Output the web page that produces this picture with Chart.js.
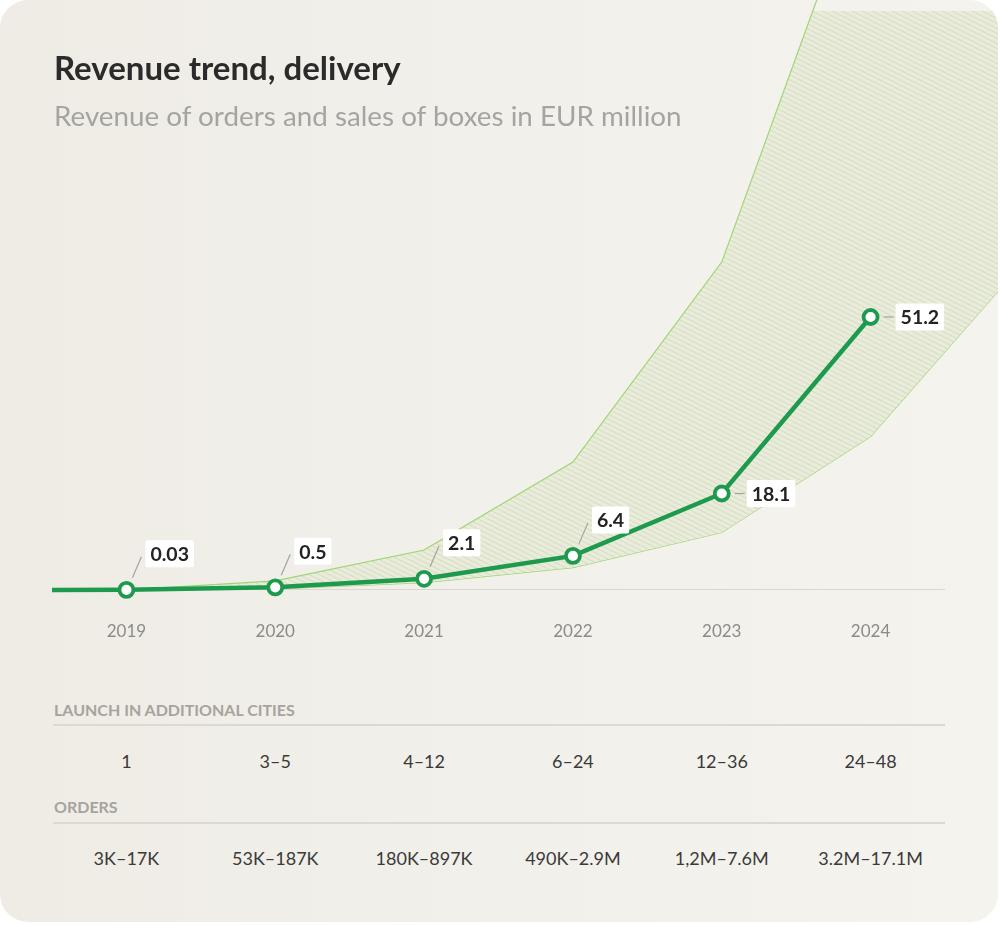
<!DOCTYPE html>
<html>
<head>
<meta charset="utf-8">
<script src="https://cdn.jsdelivr.net/npm/chart.js@4.4.1/dist/chart.umd.min.js"></script>
<style>
  html, body { margin: 0; padding: 0; background: #ffffff; }
  #card {
    position: absolute; left: 0; top: 0; width: 998px; height: 922px;
    border-radius: 28px; overflow: hidden;
    background: linear-gradient(90deg, #efece6 0%, #f2f0ea 50%, #f5f3ee 100%);
    font-family: Lato, "Open Sans", sans-serif;
  }
  #chartWrap { position: absolute; left: 0; top: 0; width: 1040px; height: 660px; }
  #title { position: absolute; left: 54px; top: 47px; font-size: 33px; font-weight: 700; color: #2b2b2b; margin: 0; white-space: nowrap; }
  #subtitle { position: absolute; left: 54px; top: 99px; font-size: 27.8px; font-weight: 400; color: #a5a4a1; margin: 0; white-space: nowrap; }
  .hdr { position: absolute; left: 54px; font-size: 16px; font-weight: 700; color: #a7a39d; white-space: nowrap; }
  .rule { position: absolute; left: 53px; width: 892px; height: 2px; background: #dcd9d3; }
  .cell { position: absolute; font-size: 18px; color: #3a3a3a; white-space: nowrap; transform: translateX(-50%); }
</style>
</head>
<body>
<div id="card">
  <div id="chartWrap"><canvas id="c" width="1040" height="660"></canvas></div>
  <div id="title">Revenue trend, delivery</div>
  <div id="subtitle">Revenue of orders and sales of boxes in EUR million</div>
  <div class="hdr" style="top:700px">LAUNCH IN ADDITIONAL CITIES</div>
  <div class="rule" style="top:724px"></div>
  <div class="hdr" style="top:797px">ORDERS</div>
  <div class="rule" style="top:822px"></div>
  <div id="rows"></div>
</div>
<script>
// ---- data ----
const years = ['2019', '2020', '2021', '2022', '2023', '2024'];
const revenue = [0.03, 0.5, 2.1, 6.4, 18.1, 51.2];
const revenueLabels = ['0.03', '0.5', '2.1', '6.4', '18.1', '51.2'];
// band (scenario range), last value continues beyond 2024
const bandLow = [0.03, 0.2, 1.4, 4.2, 10.8, 28.8, 60.6];
const bandHigh = [0.03, 1.7, 7.5, 24.0, 61.5, 138.5, 260];
const cities = ['1', '3–5', '4–12', '6–24', '12–36', '24–48'];
const orders = ['3K–17K', '53K–187K', '180K–897K', '490K–2.9M', '1,2M–7.6M', '3.2M–17.1M'];

const xStart = -0.5, xEnd = 5.5;
const PX_PER_YEAR = (945 - 52) / (xEnd - xStart);
const PX_PER_UNIT = (590 - 317) / 51.2;

// ---- hatch pattern ----
function hatch() {
  const w = 10, h = 5;
  const c = document.createElement('canvas');
  c.width = w; c.height = h;
  const g = c.getContext('2d');
  g.fillStyle = '#e9ebdb';
  g.fillRect(0, 0, w, h);
  g.strokeStyle = '#d6dec1';
  g.lineWidth = 1.1;
  for (let k = -1; k <= 1; k++) {
    g.beginPath();
    g.moveTo(-10, -5 + k * h);
    g.lineTo(20, 10 + k * h);
    g.stroke();
  }
  return g.createPattern(c, 'repeat');
}

const GREEN = '#1e9a4e';
const BAND_LINE = '#9dd672';

const labelPlugin = {
  id: 'valueLabels',
  afterDatasetsDraw(chart) {
    const meta = chart.getDatasetMeta(3);
    const ctx = chart.ctx;
    ctx.save();
    ctx.font = 'bold 19.5px Lato, sans-serif';
    ctx.textBaseline = 'middle';
    meta.data.forEach((pt, i) => {
      if (i === 0) return;
      const idx = i - 1;
      const txt = revenueLabels[idx];
      const tw = ctx.measureText(txt).width;
      const bw = tw + 10, bh = 27;
      let bx, by, l1, l2;
      if (idx >= 4) {
        bx = pt.x + 25; by = pt.y - bh / 2;
        l1 = [pt.x + 13, pt.y]; l2 = [pt.x + 23, pt.y];
      } else {
        bx = pt.x + 19; by = pt.y - 36 - bh / 2;
        l1 = [pt.x + 6, pt.y - 12]; l2 = [pt.x + 15, pt.y - 33];
      }
      ctx.strokeStyle = '#a3a3a3';
      ctx.lineWidth = 1.2;
      ctx.beginPath(); ctx.moveTo(l1[0], l1[1]); ctx.lineTo(l2[0], l2[1]); ctx.stroke();
      ctx.fillStyle = '#ffffff';
      ctx.beginPath();
      ctx.roundRect(bx, by, bw, bh, 2);
      ctx.fill();
      ctx.fillStyle = '#232323';
      ctx.textAlign = 'left';
      ctx.fillText(txt, bx + 5, by + bh / 2 + 1);
    });
    ctx.restore();
  }
};

const chart = new Chart(document.getElementById('c'), {
  type: 'line',
  data: {
    datasets: [
      {
        label: 'baseline',
        data: [{ x: xStart, y: 0 }, { x: xEnd, y: 0 }],
        borderColor: '#d2cec7', borderWidth: 1.5, pointRadius: 0, fill: false, order: 3
      },
      {
        label: 'low',
        data: bandLow.map((v, i) => ({ x: i, y: v })),
        borderColor: BAND_LINE, borderWidth: 1.2, pointRadius: 0, fill: false, clip: false, order: 2
      },
      {
        label: 'high',
        data: bandHigh.map((v, i) => ({ x: i, y: v })),
        borderColor: BAND_LINE, borderWidth: 1.2, pointRadius: 0, fill: '-1',
        backgroundColor: hatch(), clip: false, order: 1
      },
      {
        label: 'Revenue',
        data: [{ x: xStart, y: 0 }].concat(revenue.map((v, i) => ({ x: i, y: v }))),
        borderColor: GREEN, borderWidth: 4.5, fill: false, order: 0,
        pointRadius: c => c.dataIndex === 0 ? 0 : 7,
        pointBorderWidth: 3.8, pointBackgroundColor: '#ffffff', pointBorderColor: GREEN,
        clip: false
      }
    ]
  },
  options: {
    responsive: false,
    animation: false,
    layout: { padding: { left: 52, right: 0, top: 0, bottom: 20 } },
    plugins: { legend: { display: false }, tooltip: { enabled: false } },
    scales: {
      x: {
        type: 'linear',
        min: xStart,
        max: 7,
        grid: { display: false, drawTicks: false },
        border: { display: false },
        afterBuildTicks: s => { s.ticks = years.map((y, i) => ({ value: i })); },
        afterFit: s => { s.height = 50; },
        ticks: {
          padding: 31,
          autoSkip: false,
          maxRotation: 0,
          callback: (v) => years[v] ?? '',
          font: { family: 'Lato, sans-serif', size: 17 },
          color: '#8d8b88'
        }
      },
      y: {
        display: false,
        min: 0,
        max: 110
      }
    }
  },
  plugins: [labelPlugin]
});

// calibrate scale ranges to the measured pixel spacing of the reference
const ca = chart.chartArea;
chart.options.scales.x.min = xStart - (ca.left - 52) / PX_PER_YEAR;
chart.options.scales.x.max = chart.options.scales.x.min + (ca.right - ca.left) / PX_PER_YEAR;
chart.options.scales.y.max = (ca.bottom - ca.top) / PX_PER_UNIT;
chart.update();

// table rows aligned with the chart's x scale
const rows = document.getElementById('rows');
const xs = chart.scales.x;
function addRow(arr, top) {
  arr.forEach((t, i) => {
    const d = document.createElement('div');
    d.className = 'cell';
    d.textContent = t;
    d.style.left = xs.getPixelForValue(i) + 'px';
    d.style.top = top + 'px';
    rows.appendChild(d);
  });
}
addRow(cities, 750);
addRow(orders, 847);
</script>
</body>
</html>
